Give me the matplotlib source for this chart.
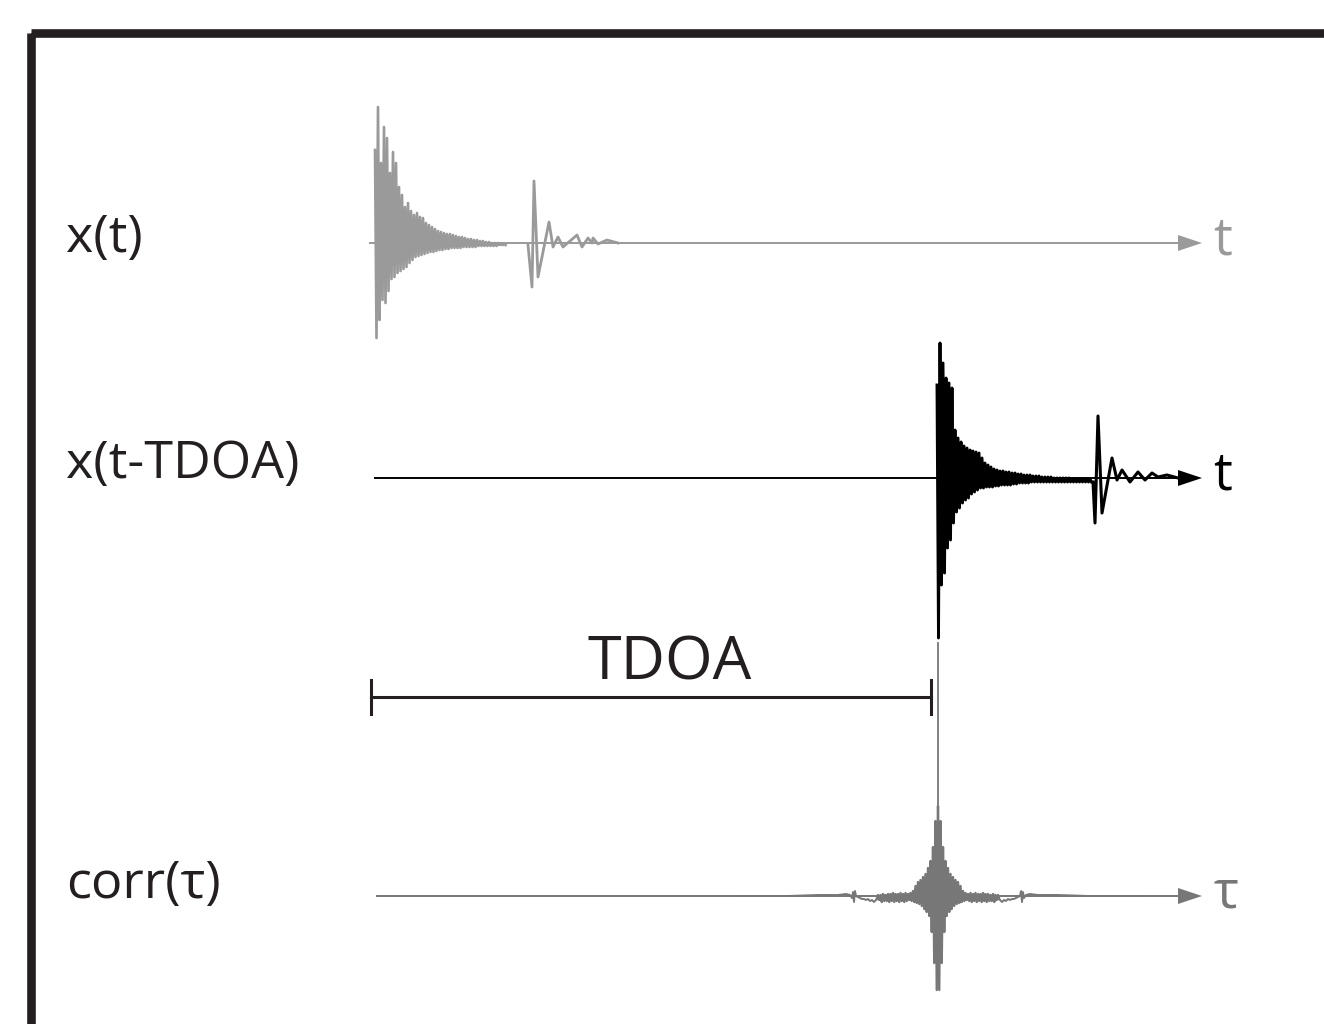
import numpy as np
from matplotlib import pyplot as plt
from matplotlib.patches import Polygon, Rectangle

plt.rcParams["font.family"] = ["Open Sans", "DejaVu Sans"]

# ---- data (amplitudes, in pixel-like units) ----
# direct signal x(t): dense decaying burst, upper and lower peaks, 3 units apart
x_burst_up = [93, 136, 80, 116, 105, 70, 91, 80, 56, 48, 36, 40, 32, 28, 30, 26,
              25, 20, 18, 16, 14, 12, 11, 10, 9, 9, 8, 7, 6, 6, 5, 4, 4, 3, 3,
              2, 2, 1, 1, 0, 0, 0, -1, -1]
x_burst_dn = [95, 77, 57, 60, 48, 36, 34, 30, 28, 26, 24, 20, 17, 14, 13, 12,
              11, 10, 9, 9, 8, 7, 7, 6, 6, 5, 5, 5, 5, 4, 4, 4, 4, 4, 3, 3,
              3, 3, 3, 3, 3, 2, 2, 2]
# echo of x(t): (time after echo start, amplitude)
x_echo_t = [0, 4, 6, 10, 21, 25, 30, 35, 49, 54, 60, 64, 65, 70, 79, 90]
x_echo_a = [-2, -44, 62, -34, 21, -4, 6, -4, 8, -4, 5, 0, 5, -1, 3, 0]

# delayed signal x(t-TDOA)
d_burst_up = [93, 135, 115, 100, 95, 90, 48, 40, 36, 32, 30, 28, 27, 26, 25, 20,
              15, 13, 11, 9, 8, 7, 7, 6, 6, 5, 5, 4, 4, 3, 3, 3, 2, 2, 2, 1,
              1, 1, 1, 0, 0, 0, 0, 0, 0, -1, -1, -1, -1, -1, -1, -1]
d_burst_dn = [160, 107, 95, 70, 62, 45, 34, 30, 25, 22, 20, 16, 14, 12, 10, 10,
              9, 9, 9, 8, 8, 7, 7, 7, 7, 6, 6, 5, 5, 5, 5, 4, 4, 4, 4, 4,
              4, 4, 4, 4, 4, 4, 4, 4, 4, 4, 4, 4, 4, 4, 4, 4]
d_echo_t = [0, 2, 5, 9, 19, 24, 29, 37, 45, 52, 59, 65, 74, 85]
d_echo_a = [-4, -45, 62, -35, 20, -2, 8, -4, 6, -2, 5, 1, 3, 0]

# cross-correlation corr(tau): peaks from the centre outward (mirrored)
c_up = [89, 75, 49, 35, 28, 22, 19, 16, 14, 10, 5, 3, 2, 3, 2, 3, 2, 2, 3, 2,
        2, 1, 2, 1, 1]
c_dn = [94, 67, 36, 20, 16, 13, 10, 8, 7, 6, 5, 4, 5, 6, 5, 6, 5, 6, 5, 6, 5,
        5, 6, 4, 3]
c_side_off = [62, 64, 66, 68, 70, 72, 74, 76, 78, 80, 82, 83, 84, 85, 86, 88,
              92, 100, 120, 150, 200]
c_side_a = [-4, -6, -4, -5, -3, -4, -3, -3, -2, -1, 0, 5, -6, 4, -2, 1, 2, 1,
            1, 0, 0]

# ---- layout (pixels) ----
W, H = 1324, 1024
grey_lt = "#9a9a9a"
grey_dk = "#777777"
ink = "#231f20"


def zigzag(up, dn, step):
    t, a = [], []
    for i, (u, d) in enumerate(zip(up, dn)):
        t += [i * step, i * step + step / 2]
        a += [u, -d]
    return np.array(t), np.array(a, dtype=float)


def arrow_axis(ax, x0, x1, y, color, lw, label):
    ax.plot([x0, x1 - 20], [y, y], color=color, lw=lw, zorder=1)
    ax.add_patch(Polygon([[x1 - 24, y - 8], [x1, y], [x1 - 24, y + 8]],
                         closed=True, color=color, lw=0))
    ax.text(x1 + 11, y - 2, label, color=color, fontsize=38, va="center", ha="left")


fig = plt.figure(figsize=(W / 100, H / 100), dpi=100)
ax = fig.add_axes([0, 0, 1, 1])
ax.set_xlim(0, W)
ax.set_ylim(H, 0)
ax.axis("off")

# frame (runs off the right and bottom edge)
ax.add_patch(Rectangle((31, 33), 1320, 1020, fill=False, ec=ink, lw=6.2))

# row 1: x(t)
y1 = 243
arrow_axis(ax, 370, 1202, y1, grey_lt, 1.4, "t")
t, a = zigzag(x_burst_up, x_burst_dn, 3)
ax.plot(375 + t, y1 - a, color=grey_lt, lw=1.9)
ax.plot(528 + np.array(x_echo_t), y1 - np.array(x_echo_a), color=grey_lt, lw=2.0)
ax.text(66, 238, "x(t)", fontsize=37.5, va="center", ha="left", color=ink)

# row 2: x(t-TDOA)
y2 = 478
arrow_axis(ax, 375, 1202, y2, "black", 1.4, "t")
t, a = zigzag(d_burst_up, d_burst_dn, 3)
ax.plot(937 + t, y2 - a, color="black", lw=2.1)
ax.plot(1093 + np.array(d_echo_t), y2 - np.array(d_echo_a), color="black", lw=2.2)
ax.text(66, 464, "x(t-TDOA)", fontsize=37.5, va="center", ha="left", color=ink)

# row 3: corr(tau)
y3 = 896
arrow_axis(ax, 377, 1202, y3, grey_dk, 1.4, "τ")
t, a = zigzag(c_up, c_dn, 2.5)
ax.plot(938 + t, y3 - a, color=grey_dk, lw=1.7)
ax.plot(938 - t, y3 - a, color=grey_dk, lw=1.7)
ax.plot([938, 938], [y3 - 89, 643], color=grey_dk, lw=1.3)
so = np.array(c_side_off)
sa = np.array(c_side_a)
ax.plot(938 - so, y3 - sa, color=grey_dk, lw=1.4)
ax.plot(938 + so, y3 - sa, color=grey_dk, lw=1.4)
ax.text(66, 884, "corr(τ)", fontsize=37.5, va="center", ha="left", color=ink)

# TDOA bracket
yb = 697
ax.plot([371, 931], [yb, yb], color=ink, lw=2.2)
ax.plot([371, 371], [680, 714], color=ink, lw=2.2)
ax.plot([931, 931], [680, 714], color=ink, lw=2.2)
ax.text(670, 680, "TDOA", fontsize=44, va="baseline", ha="center", color=ink)

fig.savefig("out.png", dpi=100)
